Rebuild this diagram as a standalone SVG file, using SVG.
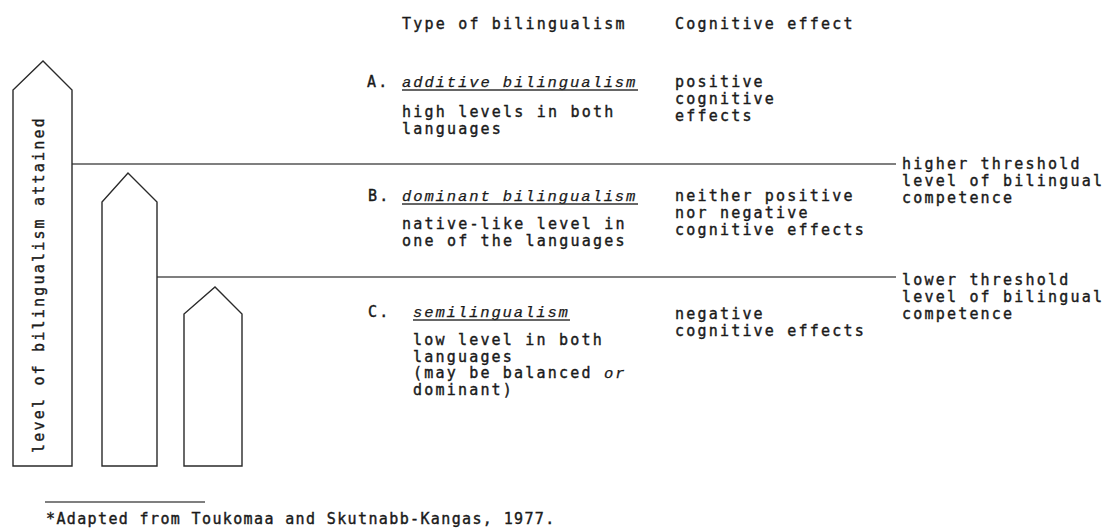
<svg xmlns="http://www.w3.org/2000/svg" width="1107" height="531" viewBox="0 0 1107 531">
<style>
.t{font-family:"DejaVu Sans Mono","Liberation Mono",monospace;font-size:15px;letter-spacing:2.2px;fill:#1a1a1a;stroke:#1a1a1a;stroke-width:0.4}
.i{font-family:"Liberation Mono","DejaVu Sans Mono",monospace;font-style:italic;font-size:15.5px;letter-spacing:1.9px;fill:#1a1a1a;stroke:#1a1a1a;stroke-width:0.25}
.fn{letter-spacing:1.37px}
.bar{fill:#fff;stroke:#2a2a2a;stroke-width:1.4}
.ln{stroke:#555;stroke-width:1.4;fill:none}
.ul{stroke:#333;stroke-width:1.4}
</style>
<rect width="1107" height="531" fill="#fff"/>
<g id="connectors">
<line class="ln" x1="72" y1="164" x2="896" y2="164"/>
<line class="ln" x1="157" y1="277" x2="896" y2="277"/>
<line class="ln" x1="45" y1="502" x2="205" y2="502"/>
</g>
<g id="bar-tall">
<polygon class="bar" points="13,466 13,90 43,61 72,90 72,466"/>
<text class="t" transform="translate(44,453) rotate(-90)">level of bilingualism attained</text>
</g>
<g id="bar-mid">
<polygon class="bar" points="102,466 102,202 128,173 157,202 157,466"/>
</g>
<g id="bar-short">
<polygon class="bar" points="184,466 184,314 215,287 242,314 242,466"/>
</g>
<g id="headers">
<text class="t" x="402" y="29">Type of bilingualism</text>
<text class="t" x="675" y="29">Cognitive effect</text>
</g>
<g id="type-a">
<text class="t" x="367" y="87">A.</text>
<text class="i" x="402" y="87">additive bilingualism</text>
<line class="ul" x1="402" y1="90" x2="638" y2="90"/>
<text class="t" x="402" y="117">high levels in both</text>
<text class="t" x="402" y="133.5">languages</text>
<text class="t" x="675" y="87">positive</text>
<text class="t" x="675" y="104">cognitive</text>
<text class="t" x="675" y="121">effects</text>
</g>
<g id="type-b">
<text class="t" x="368" y="201">B.</text>
<text class="i" x="402" y="201">dominant bilingualism</text>
<line class="ul" x1="402" y1="204" x2="638" y2="204"/>
<text class="t" x="402" y="229">native-like level in</text>
<text class="t" x="402" y="245.5">one of the languages</text>
<text class="t" x="675" y="201">neither positive</text>
<text class="t" x="675" y="218">nor negative</text>
<text class="t" x="675" y="235">cognitive effects</text>
</g>
<g id="type-c">
<text class="t" x="368" y="317">C.</text>
<text class="i" x="413" y="317">semilingualism</text>
<line class="ul" x1="413" y1="320" x2="570" y2="320"/>
<text class="t" x="413" y="345">low level in both</text>
<text class="t" x="413" y="361.5">languages</text>
<text class="t" x="413" y="378">(may be balanced <tspan class="i">or</tspan></text>
<text class="t" x="413" y="394.5">dominant)</text>
<text class="t" x="675" y="319">negative</text>
<text class="t" x="675" y="336">cognitive effects</text>
</g>
<g id="threshold-higher">
<text class="t" x="902" y="169">higher threshold</text>
<text class="t" x="902" y="186">level of bilingual</text>
<text class="t" x="902" y="203">competence</text>
</g>
<g id="threshold-lower">
<text class="t" x="902" y="285">lower threshold</text>
<text class="t" x="902" y="302">level of bilingual</text>
<text class="t" x="902" y="319">competence</text>
</g>
<g id="footnote">
<text class="t fn" x="46" y="524">*Adapted from Toukomaa and Skutnabb-Kangas, 1977.</text>
</g>
</svg>
